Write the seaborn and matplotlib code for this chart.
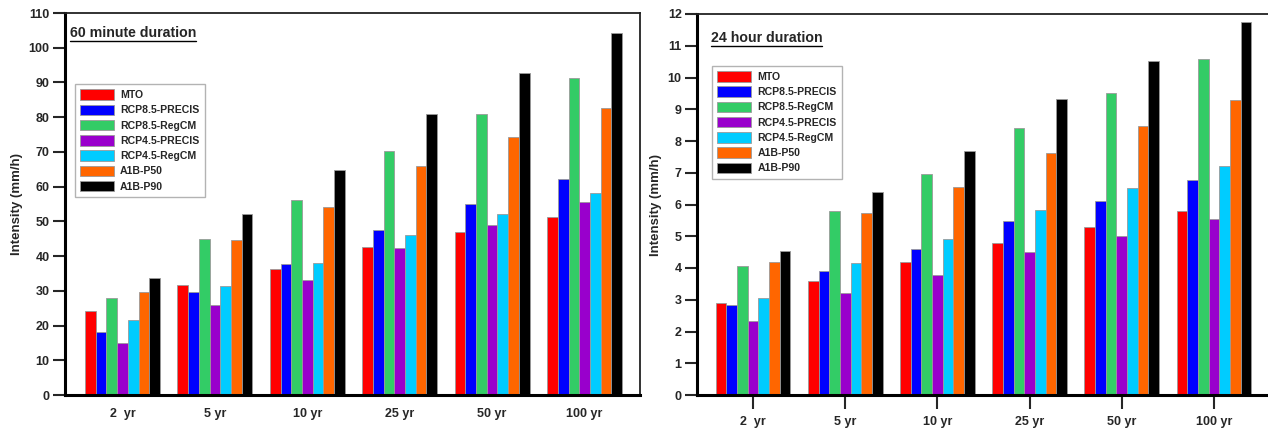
import pandas as pd
import matplotlib
matplotlib.use("Agg")
import matplotlib.pyplot as plt
from matplotlib.patches import Patch
from matplotlib.lines import Line2D
import seaborn as sns

periods = ["2  yr", "5 yr", "10 yr", "25 yr", "50 yr", "100 yr"]
scenarios = ["MTO", "RCP8.5-PRECIS", "RCP8.5-RegCM", "RCP4.5-PRECIS",
             "RCP4.5-RegCM", "A1B-P50", "A1B-P90"]
colors = ["#ff0000", "#0000ff", "#33cc66", "#9900cc", "#00ccff", "#ff6600", "#000000"]

# 60 minute duration, one list per scenario (2, 5, 10, 25, 50, 100 yr)
mto_60 = [24.3, 31.6, 36.4, 42.6, 47.0, 51.4]
rcp85_precis_60 = [18.0, 29.8, 37.7, 47.6, 55.0, 62.2]
rcp85_regcm_60 = [28.0, 45.0, 56.1, 70.4, 80.9, 91.3]
rcp45_precis_60 = [15.0, 25.8, 33.1, 42.3, 49.0, 55.6]
rcp45_regcm_60 = [21.5, 31.3, 38.0, 46.1, 52.2, 58.3]
a1b_p50_60 = [29.8, 44.5, 54.0, 65.8, 74.2, 82.6]
a1b_p90_60 = [33.7, 52.1, 64.8, 80.8, 92.6, 104.2]

# 24 hour duration
mto_24 = [2.90, 3.60, 4.20, 4.80, 5.30, 5.80]
rcp85_precis_24 = [2.85, 3.90, 4.60, 5.47, 6.12, 6.77]
rcp85_regcm_24 = [4.05, 5.80, 6.96, 8.42, 9.50, 10.58]
rcp45_precis_24 = [2.33, 3.20, 3.78, 4.50, 5.02, 5.55]
rcp45_regcm_24 = [3.05, 4.15, 4.90, 5.82, 6.52, 7.20]
a1b_p50_24 = [4.20, 5.73, 6.55, 7.63, 8.47, 9.28]
a1b_p90_24 = [4.52, 6.38, 7.70, 9.32, 10.53, 11.74]

series_60 = [mto_60, rcp85_precis_60, rcp85_regcm_60, rcp45_precis_60,
             rcp45_regcm_60, a1b_p50_60, a1b_p90_60]
series_24 = [mto_24, rcp85_precis_24, rcp85_regcm_24, rcp45_precis_24,
             rcp45_regcm_24, a1b_p50_24, a1b_p90_24]


def to_long(series):
    rows = []
    for name, vals in zip(scenarios, series):
        for p, v in zip(periods, vals):
            rows.append({"period": p, "scenario": name, "intensity": v})
    return pd.DataFrame(rows)


sns.set_theme(style="white")
plt.rcParams["font.family"] = ["Liberation Sans", "DejaVu Sans"]
plt.rcParams["font.weight"] = "bold"

palette = dict(zip(scenarios, colors))
fig = plt.figure(figsize=(12.68, 4.32), dpi=100)
W, H = 1268, 432

panels = [
    (series_60, (65, 13, 640, 395), (0, 110, 10), "60 minute duration",
     (-0.622, 5.6), (0.017, 0.814), False, (0.008, 0.965)),
    (series_24, (697, 14, 1270, 395), (0, 12, 1), "24 hour duration",
     (-0.607, 5.607), (0.026, 0.864), True, (0.024, 0.955)),
]

for series, (x0, y0, x1, y1), (ymin, ymax, ystep), title, xlim, leg_xy, xticks, title_xy in panels:
    ax = fig.add_axes([x0 / W, (H - y1) / H, (x1 - x0) / W, (y1 - y0) / H])
    df = to_long(series)
    sns.barplot(data=df, x="period", y="intensity", hue="scenario",
                hue_order=scenarios, order=periods, palette=palette,
                width=0.81, dodge=True, errorbar=None, ax=ax,
                edgecolor="#9a9a9a", linewidth=0.6, saturation=1, legend=False)
    ax.set_xlim(*xlim)
    ax.set_ylim(ymin, ymax)
    ax.set_yticks(range(ymin, ymax + 1, ystep))
    ax.set_xlabel("")
    ax.set_ylabel("Intensity (mm/h)", fontsize=9.5, fontweight="bold", labelpad=4)
    ax.tick_params(axis="y", direction="out", length=9, width=1.5, labelsize=9,
                   left=True, pad=2)
    ax.tick_params(axis="x", direction="out", length=10 if xticks else 0,
                   width=1.5, labelsize=9, bottom=True, pad=5 if xticks else 9)
    for lab in ax.get_xticklabels() + ax.get_yticklabels():
        lab.set_fontweight("bold")
    for side in ["left", "bottom"]:
        ax.spines[side].set_linewidth(2.2)
        ax.spines[side].set_color("black")
    for side in ["top", "right"]:
        ax.spines[side].set_linewidth(1.3)
        ax.spines[side].set_color("#222222")

    handles = [Patch(facecolor=c, edgecolor="#9a9a9a", linewidth=0.6) for c in colors]
    leg = ax.legend(handles, scenarios, loc="upper left", bbox_to_anchor=leg_xy,
                    borderaxespad=0, fancybox=False, frameon=True,
                    prop={"size": 7.6, "weight": "bold"},
                    handlelength=3.2, handleheight=1.15, labelspacing=0.42,
                    handletextpad=0.6, borderpad=0.5)
    leg.get_frame().set_edgecolor("#a0a0a0")
    leg.get_frame().set_linewidth(1.0)

    t = ax.text(title_xy[0], title_xy[1], title, transform=ax.transAxes,
                fontsize=10.2, fontweight="bold", ha="left", va="top")
    fig.canvas.draw()
    bb = t.get_window_extent(fig.canvas.get_renderer())
    inv = ax.transAxes.inverted()
    (ax0, ay0), (ax1, _) = inv.transform([(bb.x0, bb.y0 - 1), (bb.x1, bb.y0 - 1)])
    ax.add_line(Line2D([ax0, ax1], [ay0, ay0], transform=ax.transAxes,
                       color="black", linewidth=1.0))

fig.savefig("out.png", dpi=100)
